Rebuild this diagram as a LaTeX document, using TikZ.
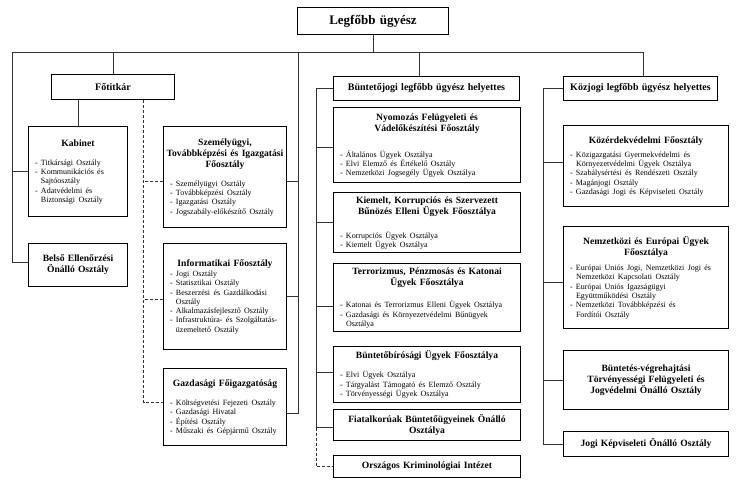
\documentclass[tikz,border=0pt]{standalone}
\usepackage{fontspec}
\setmainfont{Liberation Serif}
\setlength\parindent{0pt}
\newcommand{\orghdf}{\fontsize{9.6}{11}\selectfont\bfseries}
\newcommand{\orglif}{\fontsize{8}{9.3}\selectfont}
\newcommand{\orghd}[2]{{\orghdf\makebox[\linewidth]{\begin{tabular}[t]{@{}c@{}}#2\end{tabular}}\par}\vspace{#1pt}}
\newcommand{\orgli}[1]{{\raggedright\orglif -\ #1\par}}
\newcommand{\orglc}[1]{{\raggedright\orglif\phantom{-\ }#1\par}}
\tikzset{
  box/.style={draw=black, line width=1pt, fill=white, inner xsep=6.5pt, inner ysep=0pt, anchor=north west},
  hbox/.style={box, align=center, font=\orghdf},
  conn/.style={line width=0.9pt, draw=black!80},
  dconn/.style={conn, dash pattern=on 3pt off 2pt},
}
\begin{document}
\begin{tikzpicture}[x=1pt,y=-1pt]
\useasboundingbox (0,0) rectangle (737,481);
\fill[white] (0,0) rectangle (737,481);

% top level
\node[box, align=center, text width=138pt, minimum height=27pt, font=\fontsize{13}{15}\selectfont\bfseries] (top) at (297,7) {Legfőbb ügyész};
\node[hbox, text width=110pt, minimum height=25pt, font=\fontsize{10}{12}\selectfont\bfseries] (fotitkar) at (51,74) {Főtitkár};
\node[hbox, text width=173pt, minimum height=24pt, font=\fontsize{10}{12}\selectfont\bfseries] (bunt) at (333,76) {Büntetőjogi legfőbb ügyész helyettes};
\node[hbox, text width=141pt, minimum height=24pt, font=\fontsize{10}{12}\selectfont\bfseries] (kozjogi) at (563,76) {Közjogi legfőbb ügyész helyettes};

% left column
\node[box, text width=86pt, minimum height=90pt] (kabinet) at (28,126) {%
\orghd{9.5}{Kabinet}
\orgli{Titkársági Osztály}
\orgli{Kommunikációs és}
\orglc{Sajtóosztály}
\orgli{Adatvédelmi és}
\orglc{Biztonsági Osztály}};
\node[hbox, text width=86pt, minimum height=43pt] (belso) at (28,243) {Belső Ellenőrzési\\Önálló Osztály};

\node[box, text width=110pt, minimum height=101pt] (szemely) at (163,126) {%
\orghd{8.5}{Személyügyi,\\Továbbképzési és Igazgatási\\Főosztály}
\orgli{Személyügyi Osztály}
\orgli{Továbbképzési Osztály}
\orgli{Igazgatási Osztály}
\orgli{Jogszabály-előkészítő Osztály}};
\node[box, text width=110pt, minimum height=106pt] (info) at (163,243) {%
\orghd{0.5}{Informatikai Főosztály}
\orgli{Jogi Osztály}
\orgli{Statisztikai Osztály}
\orgli{Beszerzési és Gazdálkodási}
\orglc{Osztály}
\orgli{Alkalmazásfejlesztő Osztály}
\orgli{Infrastruktúra- és Szolgáltatás-}
\orglc{üzemeltető Osztály}};
\node[box, text width=110pt, minimum height=77pt] (gazd) at (163,368) {%
\orghd{9.5}{Gazdasági Főigazgatóság}
\orgli{Költségvetési Fejezeti Osztály}
\orgli{Gazdasági Hivatal}
\orgli{Építési Osztály}
\orgli{Műszaki és Gépjármű Osztály}};

% middle column
\node[box, text width=174pt, minimum height=75pt] (nyom) at (333,107) {%
\orghd{14.5}{Nyomozás Felügyeleti és\\Vádelőkészítési Főosztály}
\orgli{Általános Ügyek Osztálya}
\orgli{Elvi Elemző és Értékelő Osztály}
\orgli{Nemzetközi Jogsegély Ügyek Osztálya}};
\node[box, text width=174pt, minimum height=60pt] (kiem) at (333,192) {%
\orghd{13.5}{Kiemelt, Korrupciós és Szervezett\\Bűnözés Elleni Ügyek Főosztálya}
\orgli{Korrupciós Ügyek Osztálya}
\orgli{Kiemelt Ügyek Osztálya}};
\node[box, text width=174pt, minimum height=68pt] (terr) at (333,263) {%
\orghd{11.5}{Terrorizmus, Pénzmosás és Katonai\\Ügyek Főosztálya}
\orgli{Katonai és Terrorizmus Elleni Ügyek Osztálya}
\orgli{Gazdasági és Környezetvédelmi Bűnügyek}
\orglc{Osztálya}};
\node[box, text width=174pt, minimum height=56pt] (bbir) at (333,346) {%
\orghd{8.5}{Büntetőbírósági Ügyek Főosztálya}
\orgli{Elvi Ügyek Osztálya}
\orgli{Tárgyalást Támogató és Elemző Osztály}
\orgli{Törvényességi Ügyek Osztálya}};
\node[hbox, text width=174pt, minimum height=31pt] (fiatal) at (333,409) {Fiatalkorúak Büntetőügyeinek Önálló\\Osztálya};
\node[hbox, text width=174pt, minimum height=22pt] (orsz) at (333,455) {Országos Kriminológiai Intézet};

% right column
\node[box, text width=152pt, minimum height=81pt] (kozerd) at (563,125) {%
\orghd{4.5}{Közérdekvédelmi Főosztály}
\orgli{Közigazgatási Gyermekvédelmi és}
\orglc{Környezetvédelmi Ügyek Osztálya}
\orgli{Szabálysértési és Rendészeti Osztály}
\orgli{Magánjogi Osztály}
\orgli{Gazdasági Jogi és Képviseleti Osztály}};
\node[box, text width=152pt, minimum height=102pt] (nemz) at (563,226) {%
\orghd{5.5}{Nemzetközi és Európai Ügyek\\Főosztálya}
\orgli{Európai Uniós Jogi, Nemzetközi Jogi és}
\orglc{Nemzetközi Kapcsolati Osztály}
\orgli{Európai Uniós Igazságügyi}
\orglc{Együttműködési Osztály}
\orgli{Nemzetközi Továbbképzési és}
\orglc{Fordítói Osztály}};
\node[hbox, text width=152pt, minimum height=59pt] (bvh) at (563,350) {Büntetés-végrehajtási\\Törvényességi Felügyeleti és\\Jogvédelmi Önálló Osztály};
\node[hbox, text width=152pt, minimum height=25pt] (jogi) at (563,431) {Jogi Képviseleti Önálló Osztály};

% connector coordinates
\coordinate (lx) at (12,52);
\coordinate (rx) at (643,52);
\coordinate (bt) at (419,52);
\coordinate (cs) at (298,52);
\coordinate (bx) at (316,88);
\coordinate (rs) at (543,88);
\coordinate (ds) at ([xshift=30.5pt]fotitkar.south);

% top bar
\draw[conn] (top.south) -- (top.south |- lx);
\draw[conn] (lx) -- (rx);
\draw[conn] (fotitkar.north) -- (fotitkar.north |- lx);
\draw[conn] (bt) -- (bt |- bunt.north);
\draw[conn] (rx) -- (rx |- kozjogi.north);

% left spine
\draw[conn] (lx) |- ([yshift=2.5pt]belso.west);
\draw[conn] (kabinet.west) -- (kabinet.west -| lx);
\draw[conn] (kabinet.north) -- (kabinet.north |- fotitkar.south);

% second spine (solid)
\path ([yshift=-4.5pt]szemely.east) coordinate (sz1)
      (info.east) coordinate (in1);
\draw[conn] (cs) |- ([yshift=-6.5pt]gazd.east);
\draw[conn] (sz1) -- (sz1 -| cs);
\draw[conn] (in1) -- (in1 -| cs);

% dashed spine
\path ([yshift=-4.5pt]szemely.west) coordinate (sz2)
      ([yshift=-3pt]info.west) coordinate (in2);
\draw[dconn] (ds) |- ([yshift=4.5pt]gazd.west);
\draw[dconn] (sz2) -- (sz2 -| ds);
\draw[dconn] (in2) -- (in2 -| ds);

% middle spine
\path ([yshift=-2.5pt]nyom.west) coordinate (nb)
      (kiem.west) coordinate (kb)
      ([yshift=-9pt]terr.west) coordinate (tb)
      ([yshift=2pt]bbir.west) coordinate (bb)
      ([yshift=-2.5pt]fiatal.west) coordinate (fb)
      (orsz.west) coordinate (ob);
\draw[conn] (bunt.west) -| (fb -| bx) -- (fb);
\foreach \c in {nb,kb,tb,bb} \draw[conn] (\c) -- (\c -| bx);
\draw[dconn] (fb -| bx) |- (ob);

% right spine
\path ([yshift=3.5pt]kozerd.west) coordinate (kzb)
      ([yshift=-5pt]nemz.west) coordinate (nzb)
      (bvh.west) coordinate (bvb)
      (jogi.west) coordinate (jb);
\draw[conn] (kozjogi.west) -| (jb -| rs) -- (jb);
\foreach \c in {kzb,nzb,bvb} \draw[conn] (\c) -- (\c -| rs);
\end{tikzpicture}
\end{document}
